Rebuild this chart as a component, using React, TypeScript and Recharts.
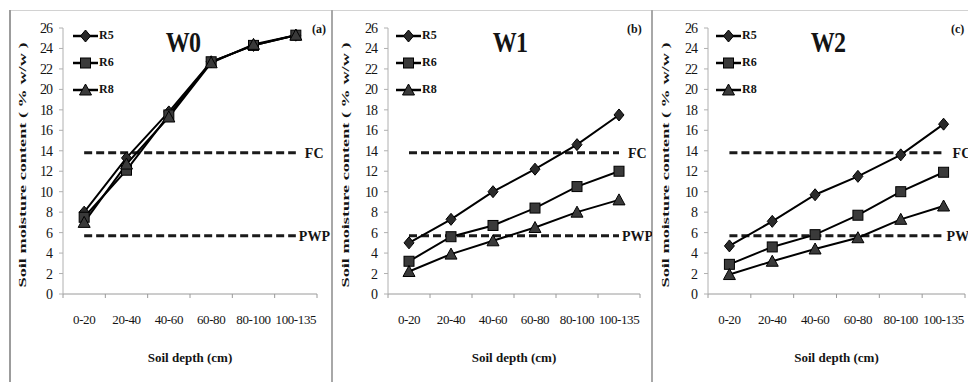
import React from 'react';
import { LineChart, Line, XAxis, YAxis, Legend, ReferenceLine } from 'recharts';

// Soil moisture content by depth, three watering regimes (W0, W1, W2)
const categories = ['0-20', '20-40', '40-60', '60-80', '80-100', '100-135'];

const w0R5 = [8.0, 13.3, 17.8, 22.7, 24.3, 25.3];
const w0R6 = [7.5, 12.1, 17.5, 22.7, 24.3, 25.3];
const w0R8 = [7.0, 12.7, 17.3, 22.6, 24.4, 25.3];

const w1R5 = [5.0, 7.3, 10.0, 12.2, 14.6, 17.5];
const w1R6 = [3.2, 5.6, 6.7, 8.4, 10.5, 12.0];
const w1R8 = [2.2, 3.9, 5.2, 6.5, 8.0, 9.2];

const w2R5 = [4.7, 7.1, 9.7, 11.5, 13.6, 16.6];
const w2R6 = [2.9, 4.6, 5.8, 7.7, 10.0, 11.9];
const w2R8 = [1.9, 3.2, 4.4, 5.5, 7.3, 8.6];

const fieldCapacity = 13.8;
const wiltingPoint = 5.7;

const yTicks = [0, 2, 4, 6, 8, 10, 12, 14, 16, 18, 20, 22, 24, 26];
const xBoundaries = [0, 1, 2, 3, 4, 5, 6];
const seriesNames = ['R5', 'R6', 'R8'];

const FONT = "'Times New Roman', 'Liberation Serif', 'DejaVu Sans Condensed', 'Liberation Sans Narrow', serif";
const INK = '#141414';

// markers: diamond / square / triangle
function Marker({ kind, cx, cy }: { kind: string; cx: number; cy: number }) {
  if (kind === 'R5') {
    return (
      <polygon
        points={`${cx},${cy - 6} ${cx + 5},${cy} ${cx},${cy + 6} ${cx - 5},${cy}`}
        fill="#2a2a2a"
        stroke="#000"
        strokeWidth={1}
      />
    );
  }
  if (kind === 'R6') {
    return <rect x={cx - 5} y={cy - 5} width={10} height={10} fill="#3a3a3a" stroke="#000" strokeWidth={1} />;
  }
  return (
    <polygon
      points={`${cx},${cy - 6} ${cx + 6},${cy + 5} ${cx - 6},${cy + 5}`}
      fill="#3a3a3a"
      stroke="#000"
      strokeWidth={1}
    />
  );
}

function makeDot(kind: string) {
  return (props: any) => {
    const { cx, cy, index } = props;
    if (cx == null || cy == null) return <g key={`e-${kind}-${index}`} />;
    return (
      <g key={`m-${kind}-${index}`}>
        <Marker kind={kind} cx={cx} cy={cy} />
      </g>
    );
  };
}

function LegendBox() {
  return (
    <div style={{ fontFamily: FONT }}>
      {seriesNames.map((name) => (
        <div key={name} style={{ display: 'flex', alignItems: 'center', height: 27 }}>
          <svg width={25} height={14}>
            <line x1={0} y1={7} x2={25} y2={7} stroke="#000" strokeWidth={2.5} />
            <Marker kind={name} cx={12.5} cy={7} />
          </svg>
          <span style={{ fontSize: 12, fontWeight: 'bold', color: INK, marginLeft: 1 }}>{name}</span>
        </div>
      ))}
    </div>
  );
}

const panels = [
  { id: 'w0', left: 10, width: 322, plotLeft: 53, plotWidth: 254, title: 'W0', titleX: 173, tag: '(a)', tagX: 302, r5: w0R5, r6: w0R6, r8: w0R8 },
  { id: 'w1', left: 333, width: 319, plotLeft: 55, plotWidth: 252, title: 'W1', titleX: 177, tag: '(b)', tagX: 294, r5: w1R5, r6: w1R6, r8: w1R8 },
  { id: 'w2', left: 653, width: 330, plotLeft: 55, plotWidth: 257, title: 'W2', titleX: 175, tag: '(c)', tagX: 298, r5: w2R5, r6: w2R6, r8: w2R8 },
];

const CHART_H = 382;
const TOP = 28;
const X_AXIS_H = 88;

function Panel({ p }: { p: (typeof panels)[number] }) {
  const data = categories.map((c, i) => ({ pos: i + 0.5, depth: c, R5: p.r5[i], R6: p.r6[i], R8: p.r8[i] }));
  const band = p.plotWidth / categories.length;
  const marginLeft = 4;

  const xTick = (props: any) => {
    const { x, y, payload } = props;
    const v = payload.value as number;
    if (v >= categories.length) return <g />;
    return (
      <text x={x + band / 2} y={y + 24} textAnchor="middle" fontFamily={FONT} fontSize={13} fill={INK} letterSpacing={-0.4}>
        {categories[v]}
      </text>
    );
  };

  return (
    <div style={{ position: 'absolute', left: p.left, top: 0, width: p.width, height: CHART_H }}>
      <LineChart
        width={p.width}
        height={CHART_H}
        data={data}
        margin={{ top: TOP, right: p.width - p.plotLeft - p.plotWidth, left: marginLeft, bottom: 0 }}
      >
        <XAxis
          dataKey="pos"
          type="number"
          domain={[0, 6]}
          ticks={xBoundaries}
          interval={0}
          height={X_AXIS_H}
          tick={xTick}
          tickSize={4}
          tickMargin={2}
          stroke="#9a9a9a"
          label={{
            content: (lp: any) => {
              const vb = lp.viewBox;
              return (
                <text x={vb.x + vb.width / 2} y={362} textAnchor="middle" fontFamily={FONT} fontSize={13} fontWeight="bold" fill={INK}>
                  Soil depth (cm)
                </text>
              );
            },
          }}
        />
        <YAxis
          type="number"
          domain={[0, 26]}
          ticks={yTicks}
          interval={0}
          width={p.plotLeft - marginLeft}
          tickSize={4}
          tickMargin={7}
          stroke="#b0b0b0"
          tick={{ fontFamily: FONT, fontSize: 14, fill: INK, letterSpacing: -1 }}
          label={{
            content: (lp: any) => {
              const vb = lp.viewBox;
              const cx = 12;
              const cy = vb.y + vb.height / 2 + 4;
              return (
                <text
                  x={cx}
                  y={cy}
                  transform={`rotate(-90, ${cx}, ${cy})`}
                  textAnchor="middle"
                  dominantBaseline="central"
                  fontFamily={FONT}
                  fontSize={11}
                  fontWeight="bold"
                  fill={INK}
                  textLength={245}
                  lengthAdjust="spacingAndGlyphs"
                >
                  Soil moisture content ( % w/w )
                </text>
              );
            },
          }}
        />
        <Legend
          layout="vertical"
          verticalAlign="middle"
          align="center"
          wrapperStyle={{ left: 63, top: 22, width: 60, height: 81 }}
          content={() => <LegendBox />}
        />
        <ReferenceLine
          segment={[{ x: 0.5, y: fieldCapacity }, { x: 5.5, y: fieldCapacity }]}
          stroke="#1a1a1a"
          strokeWidth={3}
          strokeDasharray="8 4"
          label={{ value: 'FC', position: 'right', offset: 9, fontFamily: FONT, fontSize: 14, fontWeight: 'bold', fill: INK }}
        />
        <ReferenceLine
          segment={[{ x: 0.5, y: wiltingPoint }, { x: 5.5, y: wiltingPoint }]}
          stroke="#1a1a1a"
          strokeWidth={3}
          strokeDasharray="8 4"
          label={{ value: 'PWP', position: 'right', offset: 3, fontFamily: FONT, fontSize: 14, fontWeight: 'bold', fill: INK }}
        />
        {seriesNames.map((name) => (
          <Line
            key={name}
            type="linear"
            dataKey={name}
            stroke="#000"
            strokeWidth={2}
            dot={makeDot(name)}
            activeDot={false}
            isAnimationActive={false}
            legendType="none"
          />
        ))}
      </LineChart>
      <div
        style={{
          position: 'absolute',
          left: p.titleX - 30,
          width: 60,
          top: 25,
          textAlign: 'center',
          fontFamily: FONT,
          fontSize: 30,
          fontWeight: 'bold',
          color: INK,
          letterSpacing: -1,
          transform: 'scaleX(0.8)',
        }}
      >
        {p.title}
      </div>
      <div style={{ position: 'absolute', left: p.tagX, top: 22, fontFamily: FONT, fontSize: 12, fontWeight: 'bold', color: INK }}>
        {p.tag}
      </div>
    </div>
  );
}

export default function App() {
  return (
    <div style={{ position: 'absolute', left: 0, top: 0, width: 968, height: 382, overflow: 'hidden', background: '#fff' }}>
      <div style={{ position: 'absolute', left: 9, top: 10, width: 959, height: 1, background: '#d2d2d2' }} />
      <div style={{ position: 'absolute', left: 9, top: 10, width: 2, height: 372, background: '#9c9c9c' }} />
      <div style={{ position: 'absolute', left: 331, top: 10, width: 2, height: 372, background: '#a8a8a8' }} />
      <div style={{ position: 'absolute', left: 651, top: 10, width: 2, height: 372, background: '#a8a8a8' }} />
      {panels.map((p) => (
        <Panel key={p.id} p={p} />
      ))}
    </div>
  );
}
